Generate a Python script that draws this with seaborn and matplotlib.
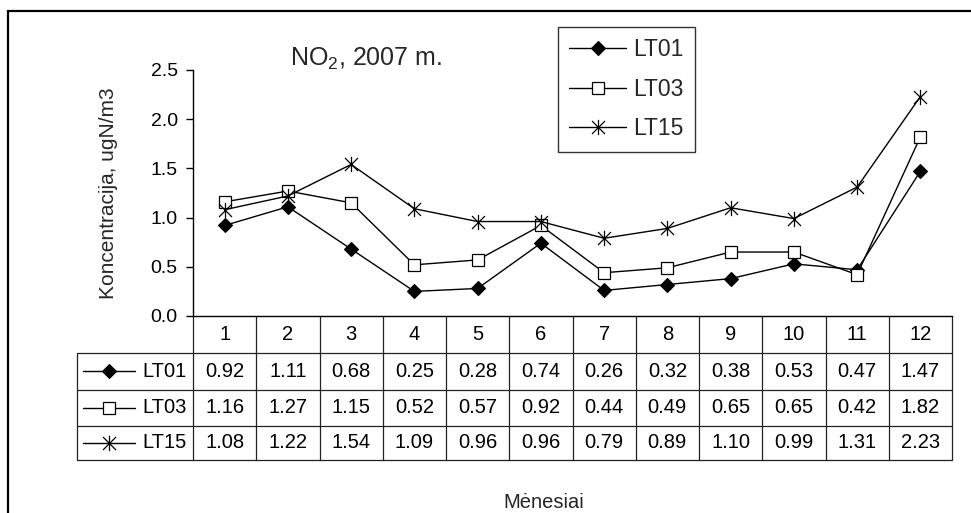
import numpy as np
import pandas as pd
import matplotlib
matplotlib.use("Agg")
import matplotlib.pyplot as plt
from matplotlib.path import Path
from matplotlib.lines import Line2D
import seaborn as sns

# ---- data -------------------------------------------------------------
months = ["1", "2", "3", "4", "5", "6", "7", "8", "9", "10", "11", "12"]
stations = ["LT01", "LT03", "LT15"]
lt01 = [0.92, 1.11, 0.68, 0.25, 0.28, 0.74, 0.26, 0.32, 0.38, 0.53, 0.47, 1.47]
lt03 = [1.16, 1.27, 1.15, 0.52, 0.57, 0.92, 0.44, 0.49, 0.65, 0.65, 0.42, 1.82]
lt15 = [1.08, 1.22, 1.54, 1.09, 0.96, 0.96, 0.79, 0.89, 1.10, 0.99, 1.31, 2.23]
y_ticks = [0.0, 0.5, 1.0, 1.5, 2.0, 2.5]
title = "NO$_2$, 2007 m."
y_label = "Koncentracija, ugN/m3"
x_label = "Mėnesiai"

series = {"LT01": lt01, "LT03": lt03, "LT15": lt15}
df = pd.DataFrame(
    [(i, m, s, v) for s in stations for i, (m, v) in enumerate(zip(months, series[s]))],
    columns=["idx", "month", "station", "value"],
)

# ---- style ------------------------------------------------------------
sns.set_theme(style="white")
plt.rcParams["font.family"] = ["Liberation Sans", "DejaVu Sans"]
plt.rcParams["mathtext.default"] = "regular"

asterisk = Path(
    [(0, -1), (0, 1), (-0.85, -0.85), (0.85, 0.85), (-0.85, 0.85), (0.85, -0.85)],
    [Path.MOVETO, Path.LINETO, Path.MOVETO, Path.LINETO, Path.MOVETO, Path.LINETO],
)
marker_kw = {
    "LT01": dict(marker="D", markerfacecolor="black", markeredgecolor="black",
                 markersize=7.5, markeredgewidth=0.8),
    "LT03": dict(marker="s", markerfacecolor="white", markeredgecolor="black",
                 markersize=8.5, markeredgewidth=0.9),
    "LT15": dict(marker=asterisk, markerfacecolor="none", markeredgecolor="black",
                 markersize=11, markeredgewidth=0.9),
}

W, H = 971, 513
fig = plt.figure(figsize=(W / 100, H / 100), dpi=100)
L, R, T, B = 193, 952, 70, 316
ax = fig.add_axes([L / W, 1 - B / H, (R - L) / W, (B - T) / H])

for s in stations:
    sns.lineplot(data=df[df.station == s], x="idx", y="value", ax=ax,
                 color="black", linewidth=1.0, label=s, legend=False,
                 **marker_kw[s])

ax.set_xlim(-0.5, len(months) - 0.5)
ax.set_ylim(y_ticks[0], y_ticks[-1])
ax.set_yticks(y_ticks)
ax.set_yticklabels([f"{t:.1f}" for t in y_ticks], fontsize=14)
ax.set_xticks([])
ax.set_xlabel("")
ax.set_ylabel("")
ax.tick_params(axis="y", direction="out", length=5, width=1, pad=6,
               left=True, color="black", labelcolor="black")
for side in ["top", "right"]:
    ax.spines[side].set_visible(False)
for side in ["left", "bottom"]:
    ax.spines[side].set_color("black")
    ax.spines[side].set_linewidth(1.0)
ax.patch.set_alpha(0)

# ---- legend -----------------------------------------------------------
handles = [Line2D([], [], color="black", linewidth=1.0, **marker_kw[s]) for s in stations]
leg = fig.legend(handles, stations, loc="upper left",
                 bbox_to_anchor=(558 / W, 1 - 27 / H), fontsize=16.5,
                 frameon=True, fancybox=False, shadow=False,
                 edgecolor="black", handlelength=2.45, handletextpad=0.32,
                 labelspacing=0.72, borderpad=0.5, borderaxespad=0)
leg.get_frame().set_linewidth(1.0)

# ---- data table & decorations (pixel overlay) -------------------------
ov = fig.add_axes([0, 0, 1, 1], zorder=-1)
ov.set_xlim(0, W)
ov.set_ylim(H, 0)
ov.axis("off")

col_edges = np.linspace(L, R, len(months) + 1)
col_mid = (col_edges[:-1] + col_edges[1:]) / 2
row_edges = [B, 353, 389.5, 426, 459.5]
label_left = 77
grid_c = "#222222"

for y in row_edges[1:]:
    ov.plot([label_left, R], [y, y], color=grid_c, lw=0.9)
for x in col_edges[1:]:
    ov.plot([x, x], [row_edges[0], row_edges[-1]], color=grid_c, lw=0.9)
ov.plot([L, L], [row_edges[0], row_edges[-1]], color=grid_c, lw=0.9)
ov.plot([label_left, label_left], [row_edges[1], row_edges[-1]], color=grid_c, lw=0.9)

fs_tab = 14.5
hdr_y = (row_edges[0] + row_edges[1]) / 2
for m, x in zip(months, col_mid):
    ov.text(x, hdr_y, m, ha="center", va="center", fontsize=fs_tab, color="black")

for r, s in enumerate(stations):
    yc = (row_edges[r + 1] + row_edges[r + 2]) / 2
    ov.plot([83, 135], [yc, yc], color="black", lw=1.0)
    ov.plot([109], [yc], color="black", linestyle="none", **marker_kw[s])
    ov.text(142, yc, s, ha="left", va="center", fontsize=fs_tab, color="black")
    for v, x in zip(series[s], col_mid):
        ov.text(x, yc, f"{v:.2f}", ha="center", va="center", fontsize=fs_tab, color="black")

# outer frame
ov.plot([8, 8, W + 5], [H + 5, 11, 11], color="black", lw=1.6, clip_on=False,
        solid_joinstyle="miter")

fig.text(366 / W, 1 - 59 / H, title, ha="center", va="center", fontsize=18)
fig.text(108 / W, 1 - 193 / H, y_label, ha="center", va="center",
         rotation=90, fontsize=15)
fig.text(544 / W, 1 - 502 / H, x_label, ha="center", va="center", fontsize=14.5)

fig.savefig("out.png", dpi=100)
